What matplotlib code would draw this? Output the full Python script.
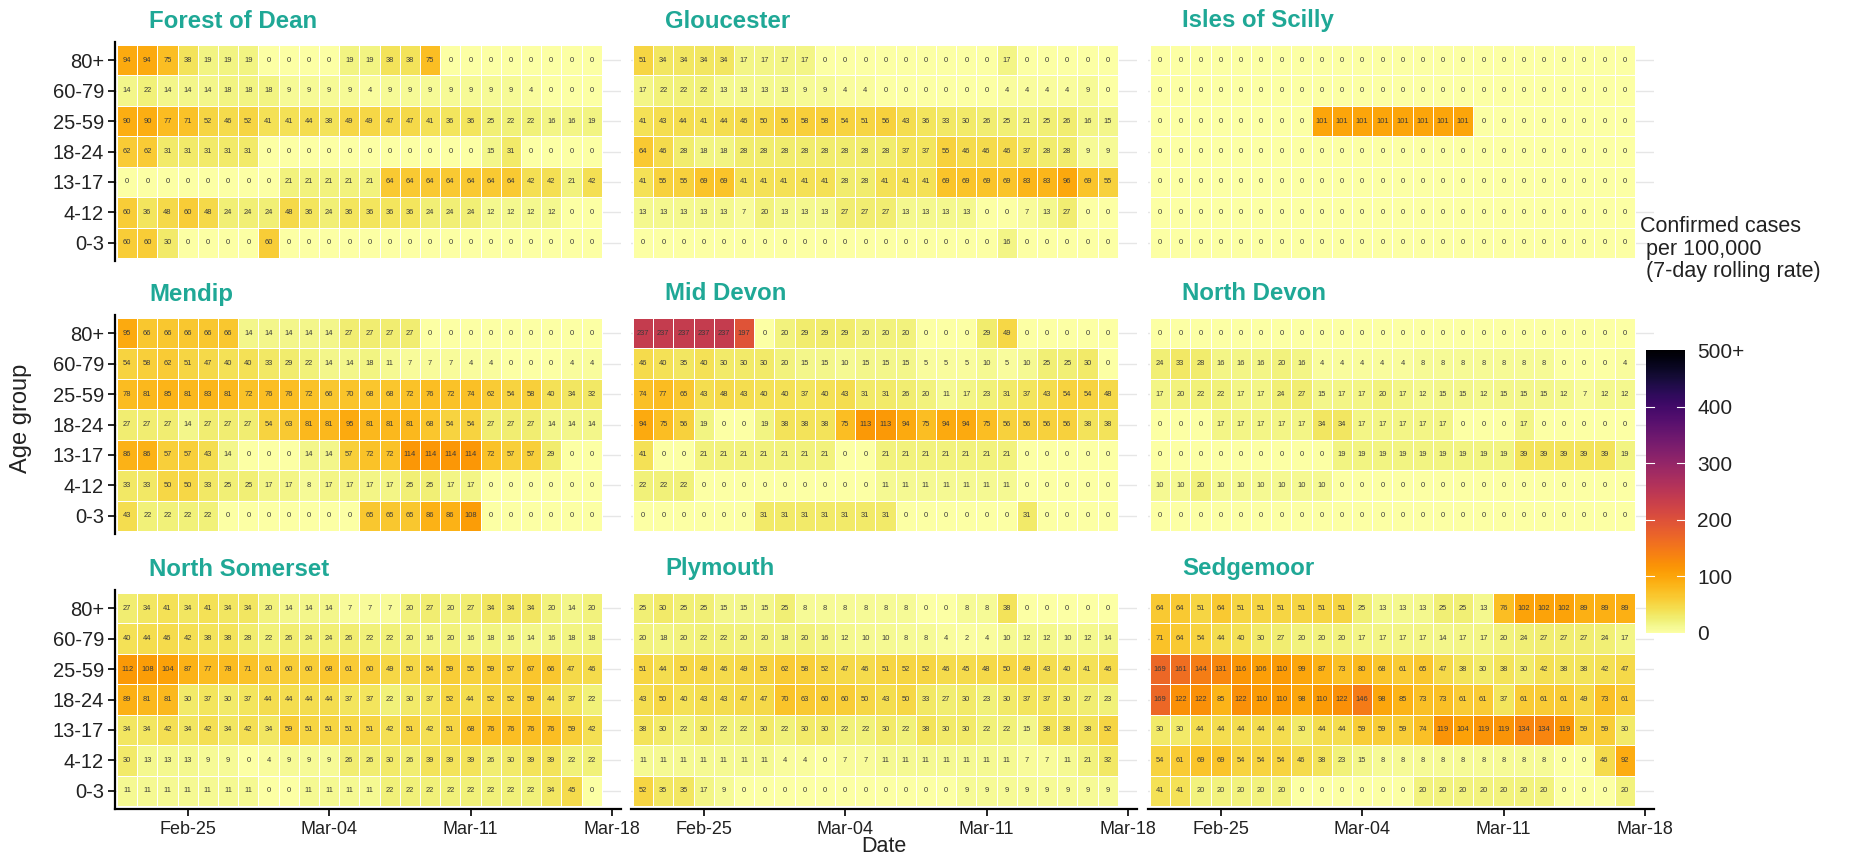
import numpy as np
import pandas as pd
import matplotlib
matplotlib.use("Agg")
import matplotlib.pyplot as plt
import matplotlib.dates as mdates
from matplotlib import font_manager as fm
from matplotlib.colors import Normalize
from matplotlib.cm import ScalarMappable

_names = {f.name for f in fm.fontManager.ttflist}
NARROW = "Liberation Sans Narrow" if "Liberation Sans Narrow" in _names else "Liberation Sans"
plt.rcParams["font.family"] = ["Liberation Sans", "DejaVu Sans"]

# ---------------- data ----------------
start_date = "2021-02-22"
n_days = 24
age_groups = ["80+", "60-79", "25-59", "18-24", "13-17", "4-12", "0-3"]  # top -> bottom
x_tick_labels = ["Feb-25", "Mar-04", "Mar-11", "Mar-18"]
x_tick_dates = ["2021-02-25", "2021-03-04", "2021-03-11", "2021-03-18"]
legend_ticks = [0, 100, 200, 300, 400, 500]
legend_labels = ["0", "100", "200", "300", "400", "500+"]

areas = ["Forest of Dean", "Gloucester", "Isles of Scilly",
         "Mendip", "Mid Devon", "North Devon",
         "North Somerset", "Plymouth", "Sedgemoor"]

forest_of_dean = [
    [94, 94, 75, 38, 19, 19, 19, 0, 0, 0, 0, 19, 19, 38, 38, 75, 0, 0, 0, 0, 0, 0, 0, 0],
    [14, 22, 14, 14, 14, 18, 18, 18, 9, 9, 9, 9, 4, 9, 9, 9, 9, 9, 9, 9, 4, 0, 0, 0],
    [90, 90, 77, 71, 52, 46, 52, 41, 41, 44, 38, 49, 49, 47, 47, 41, 36, 36, 25, 22, 22, 16, 16, 19],
    [62, 62, 31, 31, 31, 31, 31, 0, 0, 0, 0, 0, 0, 0, 0, 0, 0, 0, 15, 31, 0, 0, 0, 0],
    [0, 0, 0, 0, 0, 0, 0, 0, 21, 21, 21, 21, 21, 64, 64, 64, 64, 64, 64, 64, 42, 42, 21, 42],
    [60, 36, 48, 60, 48, 24, 24, 24, 48, 36, 24, 36, 36, 36, 36, 24, 24, 24, 12, 12, 12, 12, 0, 0],
    [60, 60, 30, 0, 0, 0, 0, 60, 0, 0, 0, 0, 0, 0, 0, 0, 0, 0, 0, 0, 0, 0, 0, 0],
]
gloucester = [
    [51, 34, 34, 34, 34, 17, 17, 17, 17, 0, 0, 0, 0, 0, 0, 0, 0, 0, 17, 0, 0, 0, 0, 0],
    [17, 22, 22, 22, 13, 13, 13, 13, 9, 9, 4, 4, 0, 0, 0, 0, 0, 0, 4, 4, 4, 4, 9, 0],
    [41, 43, 44, 41, 44, 46, 50, 56, 58, 58, 54, 51, 56, 43, 36, 33, 30, 26, 25, 21, 25, 26, 16, 15],
    [64, 46, 28, 18, 18, 28, 28, 28, 28, 28, 28, 28, 28, 37, 37, 55, 46, 46, 46, 37, 28, 28, 9, 9],
    [41, 55, 55, 69, 69, 41, 41, 41, 41, 41, 28, 28, 41, 41, 41, 69, 69, 69, 69, 83, 83, 96, 69, 55],
    [13, 13, 13, 13, 13, 7, 20, 13, 13, 13, 27, 27, 27, 13, 13, 13, 13, 0, 0, 7, 13, 27, 0, 0],
    [0, 0, 0, 0, 0, 0, 0, 0, 0, 0, 0, 0, 0, 0, 0, 0, 0, 0, 16, 0, 0, 0, 0, 0],
]
isles_of_scilly = [
    [0] * 24,
    [0] * 24,
    [0, 0, 0, 0, 0, 0, 0, 0, 101, 101, 101, 101, 101, 101, 101, 101, 0, 0, 0, 0, 0, 0, 0, 0],
    [0] * 24,
    [0] * 24,
    [0] * 24,
    [0] * 24,
]
mendip = [
    [95, 66, 66, 66, 66, 66, 14, 14, 14, 14, 14, 27, 27, 27, 27, 0, 0, 0, 0, 0, 0, 0, 0, 0],
    [54, 58, 62, 51, 47, 40, 40, 33, 29, 22, 14, 14, 18, 11, 7, 7, 7, 4, 4, 0, 0, 0, 4, 4],
    [78, 81, 85, 81, 83, 81, 72, 76, 76, 72, 66, 70, 68, 68, 72, 76, 72, 74, 62, 54, 58, 40, 34, 32],
    [27, 27, 27, 14, 27, 27, 27, 54, 63, 81, 81, 95, 81, 81, 81, 68, 54, 54, 27, 27, 27, 14, 14, 14],
    [86, 86, 57, 57, 43, 14, 0, 0, 0, 14, 14, 57, 72, 72, 114, 114, 114, 114, 72, 57, 57, 29, 0, 0],
    [33, 33, 50, 50, 33, 25, 25, 17, 17, 8, 17, 17, 17, 17, 25, 25, 17, 17, 0, 0, 0, 0, 0, 0],
    [43, 22, 22, 22, 22, 0, 0, 0, 0, 0, 0, 0, 65, 65, 65, 86, 86, 108, 0, 0, 0, 0, 0, 0],
]
mid_devon = [
    [237, 237, 237, 237, 237, 197, 0, 20, 29, 29, 29, 20, 20, 20, 0, 0, 0, 29, 49, 0, 0, 0, 0, 0],
    [46, 40, 35, 40, 30, 30, 30, 20, 15, 15, 10, 15, 15, 15, 5, 5, 5, 10, 5, 10, 25, 25, 30, 0],
    [74, 77, 65, 43, 48, 43, 40, 40, 37, 40, 43, 31, 31, 26, 20, 11, 17, 23, 31, 37, 43, 54, 54, 48],
    [94, 75, 56, 19, 0, 0, 19, 38, 38, 38, 75, 113, 113, 94, 75, 94, 94, 75, 56, 56, 56, 56, 38, 38],
    [41, 0, 0, 21, 21, 21, 21, 21, 21, 21, 0, 0, 21, 21, 21, 21, 21, 21, 21, 0, 0, 0, 0, 0],
    [22, 22, 22, 0, 0, 0, 0, 0, 0, 0, 0, 0, 11, 11, 11, 11, 11, 11, 11, 0, 0, 0, 0, 0],
    [0, 0, 0, 0, 0, 0, 31, 31, 31, 31, 31, 31, 31, 0, 0, 0, 0, 0, 0, 31, 0, 0, 0, 0],
]
north_devon = [
    [0] * 24,
    [24, 33, 28, 16, 16, 16, 20, 16, 4, 4, 4, 4, 4, 8, 8, 8, 8, 8, 8, 8, 0, 0, 0, 4],
    [17, 20, 22, 22, 17, 17, 24, 27, 15, 17, 17, 20, 17, 12, 15, 15, 12, 15, 15, 15, 12, 7, 12, 12],
    [0, 0, 0, 17, 17, 17, 17, 17, 34, 34, 17, 17, 17, 17, 17, 0, 0, 0, 17, 0, 0, 0, 0, 0],
    [0, 0, 0, 0, 0, 0, 0, 0, 0, 19, 19, 19, 19, 19, 19, 19, 19, 19, 39, 39, 39, 39, 39, 19],
    [10, 10, 20, 10, 10, 10, 10, 10, 10, 0, 0, 0, 0, 0, 0, 0, 0, 0, 0, 0, 0, 0, 0, 0],
    [0] * 24,
]
north_somerset = [
    [27, 34, 41, 34, 41, 34, 34, 20, 14, 14, 14, 7, 7, 7, 20, 27, 20, 27, 34, 34, 34, 20, 14, 20],
    [40, 44, 46, 42, 38, 38, 28, 22, 26, 24, 24, 26, 22, 22, 20, 16, 20, 16, 18, 16, 14, 16, 18, 18],
    [112, 108, 104, 87, 77, 78, 71, 61, 60, 60, 68, 61, 60, 49, 50, 54, 59, 55, 59, 57, 67, 66, 47, 46],
    [89, 81, 81, 30, 37, 30, 37, 44, 44, 44, 44, 37, 37, 22, 30, 37, 52, 44, 52, 52, 59, 44, 37, 22],
    [34, 34, 42, 34, 42, 34, 42, 34, 59, 51, 51, 51, 51, 42, 51, 42, 51, 68, 76, 76, 76, 76, 59, 42],
    [30, 13, 13, 13, 9, 9, 0, 4, 9, 9, 9, 26, 26, 30, 26, 39, 39, 39, 26, 30, 39, 39, 22, 22],
    [11, 11, 11, 11, 11, 11, 11, 0, 0, 11, 11, 11, 11, 22, 22, 22, 22, 22, 22, 22, 22, 34, 45, 0],
]
plymouth = [
    [25, 30, 25, 25, 15, 15, 15, 25, 8, 8, 8, 8, 8, 8, 0, 0, 8, 8, 38, 0, 0, 0, 0, 0],
    [20, 18, 20, 22, 22, 20, 20, 18, 20, 16, 12, 10, 10, 8, 8, 4, 2, 4, 10, 12, 12, 10, 12, 14],
    [51, 44, 50, 49, 46, 49, 53, 62, 58, 52, 47, 46, 51, 52, 52, 46, 45, 48, 50, 49, 43, 40, 41, 46],
    [43, 50, 40, 43, 43, 47, 47, 70, 63, 60, 60, 50, 43, 50, 33, 27, 30, 23, 30, 37, 37, 30, 27, 23],
    [38, 30, 22, 30, 22, 22, 30, 22, 30, 30, 22, 22, 30, 22, 38, 30, 30, 22, 22, 15, 38, 38, 38, 52],
    [11, 11, 11, 11, 11, 11, 11, 4, 4, 0, 7, 7, 11, 11, 11, 11, 11, 11, 11, 7, 7, 11, 21, 32],
    [52, 35, 35, 17, 9, 0, 0, 0, 0, 0, 0, 0, 0, 0, 0, 0, 9, 9, 9, 9, 9, 9, 9, 9],
]
sedgemoor = [
    [64, 64, 51, 64, 51, 51, 51, 51, 51, 51, 25, 13, 13, 13, 25, 25, 13, 76, 102, 102, 102, 89, 89, 89],
    [71, 64, 54, 44, 40, 30, 27, 20, 20, 20, 17, 17, 17, 17, 14, 17, 17, 20, 24, 27, 27, 27, 24, 17],
    [169, 161, 144, 131, 116, 106, 110, 99, 87, 73, 80, 68, 61, 65, 47, 38, 30, 38, 30, 42, 38, 38, 42, 47],
    [169, 122, 122, 85, 122, 110, 110, 98, 110, 122, 146, 98, 85, 73, 73, 61, 61, 37, 61, 61, 61, 49, 73, 61],
    [30, 30, 44, 44, 44, 44, 44, 30, 44, 44, 59, 59, 59, 74, 119, 104, 119, 119, 134, 134, 119, 59, 59, 30],
    [54, 61, 69, 69, 54, 54, 54, 46, 38, 23, 15, 8, 8, 8, 8, 8, 8, 8, 8, 8, 0, 0, 46, 92],
    [41, 41, 20, 20, 20, 20, 20, 0, 0, 0, 0, 0, 0, 20, 20, 20, 20, 20, 20, 20, 0, 0, 0, 20],
]
area_values = [forest_of_dean, gloucester, isles_of_scilly, mendip, mid_devon,
               north_devon, north_somerset, plymouth, sedgemoor]

# ---------------- layout (pixels) ----------------
W, H = 1874, 865
fig = plt.figure(figsize=(W / 100, H / 100), dpi=100)

col_left = [115, 631, 1148]
ax_w = 506
row_top = [42, 315, 590]
ax_h = 219
title_color = "#1FA896"
text_color = "#222222"
cmap = plt.get_cmap("inferno_r")
norm = Normalize(vmin=0, vmax=500, clip=True)

d0 = mdates.date2num(pd.Timestamp(start_date))
dates = mdates.date2num(pd.date_range(start_date, periods=n_days))
x_edges = np.concatenate([dates - 0.5, [dates[-1] + 0.5]])
y_centers = np.arange(len(age_groups))[::-1] + 1  # 80+ at top
y_edges = np.arange(len(age_groups) + 1) + 0.5


def px_axes(left, top, w, h):
    return fig.add_axes([left / W, 1 - (top + h) / H, w / W, h / H])


for k, (name, vals) in enumerate(zip(areas, area_values)):
    r, c = divmod(k, 3)
    ax = px_axes(col_left[c], row_top[r], ax_w, ax_h)
    Z = np.array(vals, dtype=float)[::-1]  # bottom row first
    ax.set_axisbelow(True)
    ax.yaxis.grid(True, color="#E6E6E6", lw=1.0)
    ax.xaxis.grid(False)
    ax.pcolormesh(x_edges, y_edges, Z, cmap=cmap, norm=norm,
                  edgecolors="white", linewidth=0.6, zorder=2)
    for i, row in enumerate(vals):
        yy = len(age_groups) - i
        for j, v in enumerate(row):
            ax.text(dates[j], yy, str(v), ha="center", va="center",
                    fontsize=5.4, color="#3a3a3a", family=NARROW, zorder=3)
    ax.set_xlim(d0 - 0.6, d0 + 24.45)
    ax.set_ylim(0.4, 7.6)
    ax.set_yticks(y_centers)
    ax.set_yticklabels(age_groups)
    ax.set_xticks(mdates.date2num(pd.to_datetime(x_tick_dates)))
    ax.set_xticklabels(x_tick_labels)
    for s in ax.spines.values():
        s.set_visible(False)
    ax.tick_params(axis="x", length=5, width=1.2, color="black",
                   labelsize=13, labelcolor=text_color, pad=4)
    ax.tick_params(axis="y", length=5, width=1.2, color="black",
                   labelsize=14.5, labelcolor=text_color, pad=3)
    for lab in ax.get_xticklabels() + ax.get_yticklabels():
        lab.set_family(NARROW)
    if c == 0:
        ax.spines["left"].set_visible(True)
        ax.spines["left"].set_linewidth(1.6)
    else:
        ax.tick_params(axis="y", left=False, labelleft=False)
    if r == 2:
        ax.spines["bottom"].set_visible(True)
        ax.spines["bottom"].set_linewidth(1.6)
    else:
        ax.tick_params(axis="x", bottom=False, labelbottom=False)
    # facet title
    fig.text((col_left[c] + 34) / W, 1 - (row_top[r] - 21) / H,
             name, ha="left", va="center", fontsize=17.3, fontweight="bold",
             color=title_color)

# axis titles
fig.text(884 / W, 1 - 846 / H, "Date", ha="center", va="center", fontsize=15.5,
         family=NARROW, color=text_color)
fig.text(21 / W, 1 - 418 / H, "Age group", ha="center", va="center", fontsize=17,
         rotation=90, family=NARROW, color=text_color)

# colour bar legend
cax = px_axes(1646, 350, 39, 283)
sm = ScalarMappable(norm=norm, cmap=cmap)
cb = fig.colorbar(sm, cax=cax)
cb.outline.set_visible(False)
cb.set_ticks(legend_ticks)
cb.set_ticklabels(legend_labels)
cax.tick_params(length=0, labelsize=15, pad=9, labelcolor=text_color)
ytr = cax.get_yaxis_transform()
for t in legend_ticks[1:-1]:
    cax.plot([0, 0.2], [t, t], color="white", lw=0.8, transform=ytr)
    cax.plot([0.8, 1.0], [t, t], color="white", lw=0.8, transform=ytr)
fig.text(1640 / W, 1 - 216 / H, "Confirmed cases\n per 100,000\n (7-day rolling rate)",
         ha="left", va="top", fontsize=15.5, linespacing=1.1, color=text_color)

fig.savefig("out.png", dpi=100)
